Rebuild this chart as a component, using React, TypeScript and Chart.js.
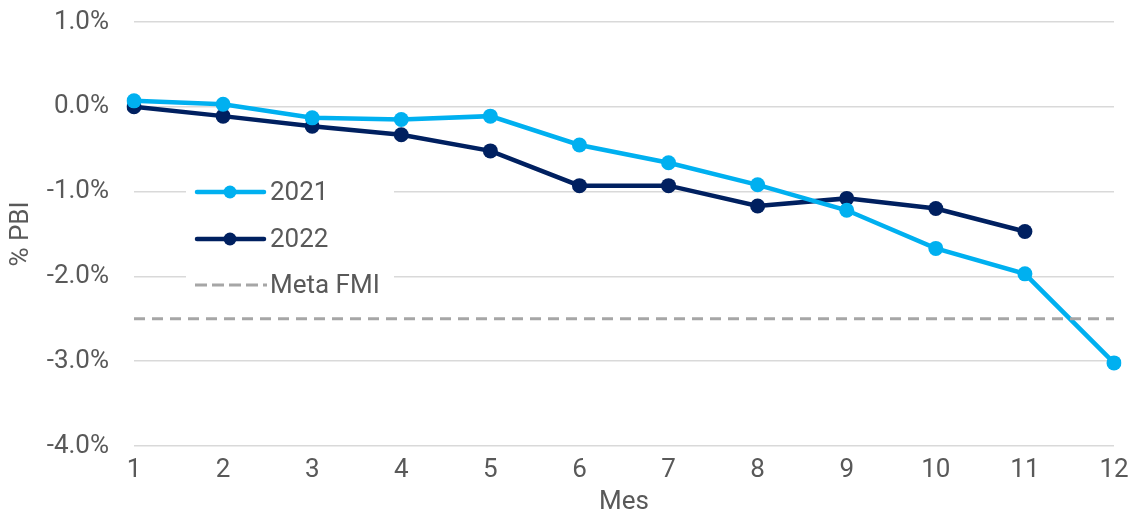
import React, { useEffect, useRef } from "react";
import { Chart, registerables } from "chart.js";

Chart.register(...registerables);

const months = ["1", "2", "3", "4", "5", "6", "7", "8", "9", "10", "11", "12"];
const values2021 = [0.07, 0.03, -0.13, -0.15, -0.11, -0.45, -0.66, -0.92, -1.22, -1.67, -1.97, -3.02];
const values2022 = [0.0, -0.11, -0.23, -0.33, -0.52, -0.93, -0.93, -1.17, -1.08, -1.2, -1.47, null];
const metaFMI = [-2.5, -2.5, -2.5, -2.5, -2.5, -2.5, -2.5, -2.5, -2.5, -2.5, -2.5, -2.5];
const yTicks = [1, 0, -1, -2, -3, -4];

const C2021 = "#00B0F0";
const C2022 = "#002060";
const CMETA = "#A6A6A6";
const TEXT = "#595959";
const GRID = "#D9D9D9";
const FONT = "Roboto";
const FS = 26;

const legendPlugin = {
  id: "insideLegend",
  afterDraw(chart: any) {
    const ctx = chart.ctx;
    ctx.save();
    ctx.fillStyle = "#ffffff";
    ctx.fillRect(186, 168, 208, 136);
    const items = [
      { label: "2021", color: C2021, dash: [] as number[], point: true, y: 192 },
      { label: "2022", color: C2022, dash: [] as number[], point: true, y: 239 },
      { label: "Meta FMI", color: CMETA, dash: [12, 5], point: false, y: 285 },
    ];
    for (const it of items) {
      ctx.beginPath();
      ctx.setLineDash(it.dash);
      ctx.strokeStyle = it.color;
      ctx.lineWidth = it.point ? 4.5 : 3;
      ctx.lineCap = it.point ? "round" : "butt";
      ctx.moveTo(it.point ? 197 : 195, it.y);
      ctx.lineTo(it.point ? 264 : 267, it.y);
      ctx.stroke();
      ctx.setLineDash([]);
      if (it.point) {
        ctx.beginPath();
        ctx.fillStyle = it.color;
        ctx.arc(230, it.y, 6.5, 0, Math.PI * 2);
        ctx.fill();
      }
      ctx.fillStyle = TEXT;
      ctx.font = `${FS}px ${FONT}`;
      ctx.textBaseline = "middle";
      ctx.textAlign = "left";
      ctx.fillText(it.label, 270, it.y + 1);
    }
    ctx.restore();
  },
};

export default function App() {
  const ref = useRef<HTMLCanvasElement | null>(null);
  useEffect(() => {
    if (!ref.current) return;
    const chart = new Chart(ref.current, {
      type: "line",
      data: {
        labels: months,
        datasets: [
          {
            label: "Meta FMI",
            data: metaFMI,
            borderColor: CMETA,
            borderWidth: 3,
            borderDash: [11, 7],
            pointRadius: 0,
            fill: false,
          },
          {
            label: "2021",
            data: values2021,
            borderColor: C2021,
            backgroundColor: C2021,
            borderWidth: 4.5,
            pointRadius: 7.5,
            pointBorderWidth: 0,
            pointBackgroundColor: C2021,
            fill: false,
          },
          {
            label: "2022",
            data: values2022,
            borderColor: C2022,
            backgroundColor: C2022,
            borderWidth: 4.5,
            pointRadius: 7.5,
            pointBorderWidth: 0,
            pointBackgroundColor: C2022,
            fill: false,
          },
        ],
      },
      options: {
        animation: false,
        responsive: true,
        maintainAspectRatio: false,
        layout: { padding: { left: 0, top: 22, right: 20, bottom: 0 } },
        plugins: {
          legend: { display: false },
          tooltip: { enabled: false },
        },
        scales: {
          x: {
            offset: false,
            grid: { display: false, drawTicks: false },
            border: { display: false },
            ticks: { color: TEXT, font: { family: FONT, size: FS }, padding: 9, maxRotation: 0, autoSkip: false },
            title: { display: true, text: "Mes", color: TEXT, font: { family: FONT, size: FS, lineHeight: 1.0 }, padding: 0 },
            afterFit: (s: any) => {
              s.height = 69;
              s.paddingLeft = 0;
              s.paddingRight = 0;
            },
          },
          y: {
            min: -4,
            max: 1,
            grid: { color: GRID, lineWidth: 1.5, drawTicks: false },
            border: { display: false },
            afterBuildTicks: (s: any) => {
              s.ticks = yTicks.map((v) => ({ value: v }));
            },
            ticks: {
              color: TEXT,
              font: { family: FONT, size: FS },
              padding: 25,
              callback: (v: any) => Number(v).toFixed(1) + "%",
            },
            title: { display: true, text: "% PBI", color: TEXT, font: { family: FONT, size: FS }, padding: 6 },
            afterFit: (s: any) => {
              s.width = 134;
              s.paddingTop = 0;
              s.paddingBottom = 0;
            },
          },
        },
      },
      plugins: [legendPlugin],
    });
    return () => chart.destroy();
  }, []);
  return (
    <div style={{ position: "fixed", left: 0, top: 0, width: 1134, height: 515, background: "#fff" }}>
      <canvas ref={ref} />
    </div>
  );
}
